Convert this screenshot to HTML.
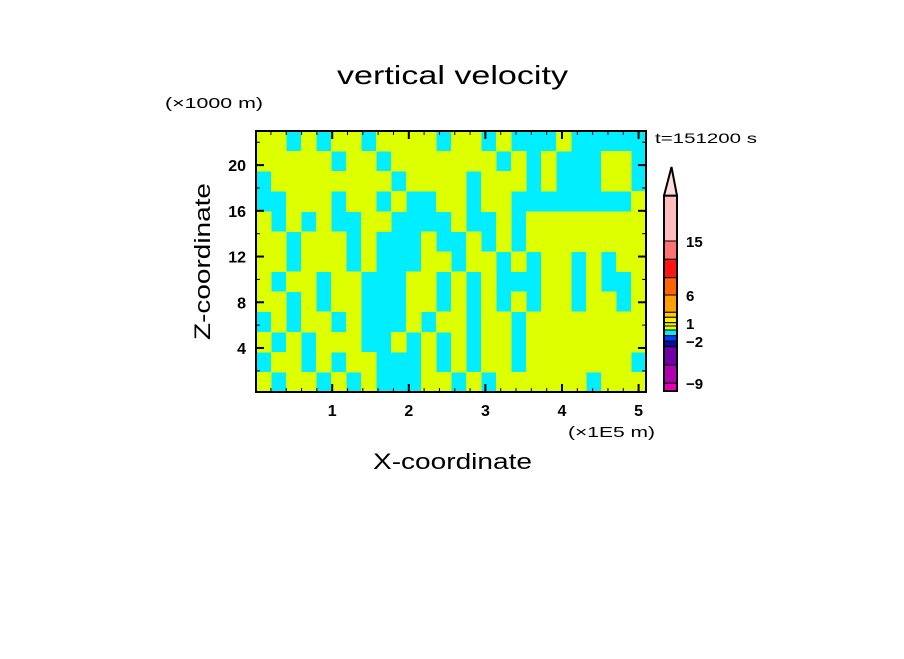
<!DOCTYPE html>
<html><head><meta charset="utf-8"><style>
html,body{margin:0;padding:0;background:#fff;}
svg text{font-family:"Liberation Sans",sans-serif;fill:#000;}
</style></head><body>
<svg id="chart" width="904" height="654" xmlns="http://www.w3.org/2000/svg">
<rect width="904" height="654" fill="#fff"/>
<text x="337" y="84" font-size="26" textLength="231" lengthAdjust="spacingAndGlyphs">vertical velocity</text>
<text x="165" y="108" font-size="15" textLength="98" lengthAdjust="spacingAndGlyphs">(×1000 m)</text>
<text x="655" y="143" font-size="14" textLength="102" lengthAdjust="spacingAndGlyphs">t=151200 s</text>
<text transform="translate(210,340) rotate(-90)" font-size="22" textLength="157" lengthAdjust="spacingAndGlyphs">Z-coordinate</text>
<text x="373" y="469" font-size="22" textLength="159" lengthAdjust="spacingAndGlyphs">X-coordinate</text>
<text x="568" y="437" font-size="15" textLength="87" lengthAdjust="spacingAndGlyphs">(×1E5 m)</text>
<g id="field" shape-rendering="crispEdges"></g>
<g id="axes"></g>
<g id="cbar"></g>
</svg>
<script>
const gridRows = [
"11010110111101101000100000",
"11111011011111110101000110",
"01111111101111011101000110",
"00111011010011011000000001",
"10101001100001001011111111",
"11011101000100101011111111",
"11011101000110110101101011",
"10110110001101010001101001",
"11010110001101010101101101",
"01011010001011011011111111",
"10101110010101011011111111",
"01101011000101011011111110",
"10110101000110101111110111"
];
const xTicks = [1,2,3,4,5];
const yTicks = [4,8,12,16,20];
const cbarColors = ["#ffbcbc","#ff7272","#ff1414","#ff6400","#ffa000","#ffcc00","#ffee00","#eef000","#ddff00","#00eeff","#0040ff","#0010a0","#7000aa","#b000b0","#e800b0"];
const cbarBounds = [195.7,241,259.3,277.7,295,312.3,317.3,322.7,326,330,335.7,341,346.7,365,383.3,391];
const cbarLabels = ["15","6","1","−2","−9"];
const cbarLabelY = [241,295,323,341,383];

const NS="http://www.w3.org/2000/svg";
const X0=256,X1=646,Y0=392,Y1=131;
const sx=v=>255.6+(v)*76.6;
const sy=v=>393.7-v*11.43;
function mk(t,a,p){const e=document.createElementNS(NS,t);for(const k in a)e.setAttribute(k,a[k]);p.appendChild(e);return e;}

const field=document.getElementById('field');
mk('rect',{x:X0,y:Y1,width:X1-X0,height:Y0-Y1,fill:'#00eeff'},field);
const nr=gridRows.length,nc=gridRows[0].length;
const cw=(X1-X0)/nc,ch=(Y0-Y1)/nr;
for(let r=0;r<nr;r++)for(let c=0;c<nc;c++){
 if(gridRows[r][c]==='1'){
  const cell=mk('rect',{x:X0+c*cw,y:Y1+r*ch,width:cw+0.5,height:ch+0.5,fill:'#ddff00'},field);
  
  
 }
}

const axes=document.getElementById('axes');
mk('rect',{x:X0,y:Y1,width:X1-X0,height:Y0-Y1,fill:'none',stroke:'#000','stroke-width':2},axes);
for(let v=0.2;v<5.1;v+=0.2){
 const x=sx(v),maj=Math.abs(v-Math.round(v))<0.01,L=maj?8:4;
 mk('line',{x1:x,y1:Y0,x2:x,y2:Y0-L,stroke:'#000','stroke-width':maj?2:1},axes);
 mk('line',{x1:x,y1:Y1,x2:x,y2:Y1+L,stroke:'#000','stroke-width':maj?2:1},axes);
}
for(let v=2;v<23;v+=2){
 const y=sy(v),maj=v%4===0,L=maj?8:4;
 mk('line',{x1:X0,y1:y,x2:X0+L,y2:y,stroke:'#000','stroke-width':maj?2:1},axes);
 mk('line',{x1:X1,y1:y,x2:X1-L,y2:y,stroke:'#000','stroke-width':maj?2:1},axes);
}
xTicks.forEach(v=>{const t=mk('text',{x:sx(v),y:416,'font-size':16,'font-weight':'bold','text-anchor':'middle'},axes);t.textContent=v;
 });
yTicks.forEach(v=>{const t=mk('text',{x:246,y:sy(v)+6,'font-size':16,'font-weight':'bold','text-anchor':'end'},axes);t.textContent=v;
 });

const cb=document.getElementById('cbar');
mk('polygon',{points:"664,195.7 677,195.7 671.5,167",fill:'#ffdcdc',stroke:'#000','stroke-width':2},cb);
cbarColors.forEach((c,i)=>{
 const r=mk('rect',{x:664,y:cbarBounds[i],width:13,height:cbarBounds[i+1]-cbarBounds[i],fill:c,stroke:'#000','stroke-width':1},cb);
 
});
mk('rect',{x:664,y:195.7,width:13,height:391-195.7,fill:'none',stroke:'#000','stroke-width':2},cb);
cbarLabels.forEach((s,i)=>{const t=mk('text',{x:686,y:cbarLabelY[i]+6,'font-size':15,'font-weight':'bold'},cb);t.textContent=s;
 });
</script>
</body></html>
